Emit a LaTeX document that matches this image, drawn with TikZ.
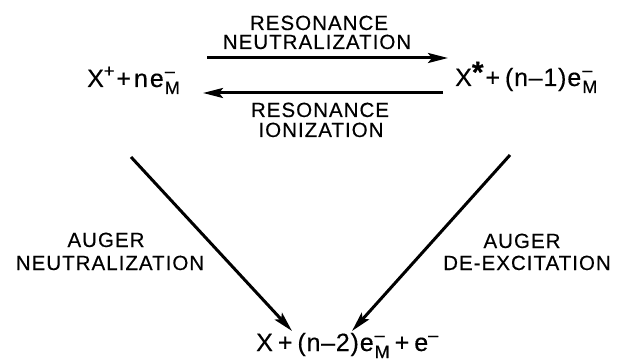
\documentclass[tikz,border=0pt]{standalone}
\usepackage{fontspec}
\setmainfont{Liberation Sans}
\newfontfamily\lblfont[LetterSpace=5,FakeBold=0.4]{Liberation Sans}
\newfontfamily\frmfont[FakeBold=0.4,LetterSpace=3]{Liberation Sans}
\usetikzlibrary{arrows.meta}
\newcommand\scr{\fontsize{18}{20}\selectfont}
\newcommand\eM{e\kern1pt\rlap{\raisebox{0.40em}{\scr–}}\raisebox{-0.28em}{\scr M}}
\newcommand\sps[1]{\raisebox{0.40em}{\scr #1}}
\newcommand\bigstar{{\fontsize{30}{30}\selectfont\raisebox{0.12em}{\textbf{*}}}}
\begin{document}
\begin{tikzpicture}[x=1pt,y=-1pt,
  formula/.style={inner sep=0pt,font=\frmfont\fontsize{25}{29}\selectfont,anchor=base west},
  lbl/.style={inner sep=0pt,font=\lblfont\fontsize{20.5}{24}\selectfont,anchor=base},
  arr/.style={line width=3pt,-{Stealth[length=20pt,width=10pt,inset=4pt]}}]
\useasboundingbox (0,0) rectangle (620,363);
\node[formula] (L) at (87,87) {X\sps{+}\kern2pt+\kern3pt n\kern2pt\eM};
\node[formula] (R) at (455,86) {X\bigstar\kern1pt+\kern5pt(n–1)\kern1pt\eM};
\node[formula] (B) at (256,351) {X\kern5pt+\kern5pt(n–2)\kern1pt\eM\kern5pt+\kern5pt e\sps{–}};
\node[lbl] (rn1) at (319,30) {RESONANCE};
\node[lbl] (rn2) at (317,49) {NEUTRALIZATION};
\node[lbl] (ri1) at (320,117) {RESONANCE};
\node[lbl] (ri2) at (321,137) {IONIZATION};
\node[lbl] (an1) at (106,247) {AUGER};
\node[lbl] (an2) at (110,270) {NEUTRALIZATION};
\node[lbl] (ad1) at (522,248) {AUGER};
\node[lbl] (ad2) at (527,270) {DE-EXCITATION};
\coordinate (t1) at (207,58); \coordinate (t2) at (448,58);
\coordinate (b1) at (443,93); \coordinate (b2) at (203,93);
\coordinate (d1) at (131,157); \coordinate (d2) at (292,331);
\coordinate (e1) at (510,155); \coordinate (e2) at (352,331);
\draw[arr] (t1) -- (t2);
\draw[arr] (b1) -- (b2);
\draw[arr] (d1) -- (d2);
\draw[arr] (e1) -- (e2);
\end{tikzpicture}
\end{document}
